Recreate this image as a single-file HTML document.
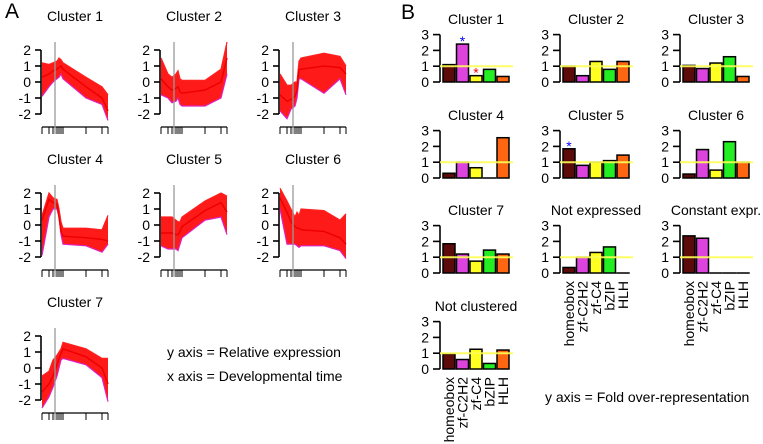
<!DOCTYPE html>
<html><head><meta charset="utf-8"><style>
html,body{margin:0;padding:0;background:#fff}
svg{display:block;font-family:"Liberation Sans",Arial,sans-serif}
</style></head><body>
<svg id="fig" width="763" height="444" viewBox="0 0 763 444"></svg>
<script>
// ---------- Panel A data ----------
const timeOffsets = [1,8,12,16,18,20,22,45,61,67];
const clusterNamesA = ["Cluster 1","Cluster 2","Cluster 3","Cluster 4","Cluster 5","Cluster 6","Cluster 7"];
const highA = [
 [1.2,1.1,1.2,1.3,1.5,1.4,1.2,0.3,-0.3,-0.8],
 [1.5,0.5,0.3,0.5,0.7,0.2,0.1,0.1,0.8,2.5],
 [0.5,-0.2,-0.2,0,0,1.3,1.5,1.8,1.6,1.0],
 [0.6,2.0,1.7,1.6,1.0,0.2,-0.2,-0.2,-0.3,0.6],
 [0.5,0.5,0.5,0.3,0.2,0.2,0.5,1.5,2.0,1.8],
 [2.3,1.5,1.0,0.5,0.8,0.6,1.0,0.9,0.3,0.7],
 [-0.5,-0.2,0.5,0.8,1.0,1.2,1.6,1.2,0.6,0.6]
];
const lowA = [
 [-0.9,-0.3,0.0,0.2,0.3,0.5,0.2,-1.0,-1.4,-2.4],
 [-0.8,-1.0,-1.3,-1.2,-1.0,-1.4,-1.5,-1.5,-1.0,0.5],
 [-1.8,-2.3,-1.7,-1.5,-1.0,0.2,0.2,-0.7,0.2,-0.8],
 [-1.9,0.5,1.0,1.0,0.5,-0.6,-1.2,-1.3,-1.7,-1.2],
 [-1.3,-1.5,-1.5,-1.5,-1.6,-1.2,-0.8,0.3,0.5,-0.6],
 [1.0,-1.2,-1.2,-1.2,-1.3,-1.4,-1.3,-1.3,-1.6,-2.1],
 [-2.5,-1.8,-1.2,-0.5,0,0.5,0.6,0.2,-0.6,-2.1]
];
const meanA = [
 [0.3,0.5,0.7,0.8,0.9,1.0,0.8,-0.3,-1.0,-1.8],
 [0.2,-0.3,-0.5,-0.4,-0.3,-0.6,-0.7,-0.5,0.0,1.5],
 [-0.8,-1.2,-1.1,-0.9,-0.5,0.8,0.8,1.0,0.9,0.5],
 [0.3,1.6,1.4,1.3,0.5,-0.4,-0.7,-0.8,-0.9,-1.0],
 [-0.5,-0.5,-0.5,-0.6,-0.6,-0.4,-0.1,0.9,1.4,0.8],
 [1.7,0.8,0.2,-0.1,-0.2,-0.2,-0.3,-0.4,-0.8,-1.2],
 [-1.5,-1.0,-0.5,0.2,0.6,0.9,1.2,0.7,0.0,-1.0]
];
const yTicksA = [-2,-1,0,1,2];
// ---------- Panel B data ----------
const familyNames = ["homeobox","zf-C2H2","zf-C4","bZIP","HLH"];
const familyColors = ["#5c0a0a","#dd44dd","#ffff22","#22ee22","#ff6611"];
const clusterNamesB = ["Cluster 1","Cluster 2","Cluster 3","Cluster 4","Cluster 5","Cluster 6","Cluster 7","Not expressed","Constant expr.","Not clustered"];
const foldB = [
 [1.1,2.4,0.4,0.8,0.35],
 [1.0,0.4,1.3,0.8,1.3],
 [1.05,0.85,1.2,1.6,0.35],
 [0.3,1.0,0.65,0,2.55],
 [1.85,0.8,1.0,1.1,1.45],
 [0.25,1.8,0.5,2.3,1.0],
 [1.85,1.2,0.75,1.45,1.2],
 [0.35,1.0,1.3,1.65,0],
 [2.35,2.2,0,0,0],
 [0.95,0.6,1.25,0.35,1.2]
];
const starsB = [[[1,"blue"],[2,"red"]],[],[],[],[[0,"blue"]],[],[],[],[],[]];
const yTicksB = [0,1,2,3];

const NS="http://www.w3.org/2000/svg";
const svg=document.getElementById('fig');
function mk(tag,attrs,parent){const e=document.createElementNS(NS,tag);for(const k in attrs)e.setAttribute(k,attrs[k]);(parent||svg).appendChild(e);return e;}
function txt(x,y,s,size,anchor,parent){const t=mk('text',{x:x,y:y,'font-size':size,'text-anchor':anchor||'start',fill:'#000'},parent);t.textContent=s;return t;}

const la=txt(5,18,"A",21);


const lb=txt(401,19,"B",21);



// Panel A
const colXA=[41,160,279], rowYA=[50,193,336], unitA=16;
clusterNamesA.forEach((name,i)=>{
  const ax=colXA[i%3], top=rowYA[Math.floor(i/3)];
  const g=mk('g',{});
  
  
  const zeroY=top+2*unitA;
  const X=t=>ax+t, Y=v=>zeroY-v*unitA;
  txt(ax+34,top-29,name,14,'middle',g);
  mk('line',{x1:ax,y1:Y(2),x2:ax,y2:Y(-2),stroke:'#000','stroke-width':1.6},g);
  yTicksA.forEach(v=>{
    mk('line',{x1:ax-6,y1:Y(v),x2:ax,y2:Y(v),stroke:'#000','stroke-width':1.6},g);
    txt(ax-10,Y(v)+5,String(v),14,'end',g);
  });
  const bx=top+77;
  mk('line',{x1:X(timeOffsets[0]),y1:bx,x2:X(timeOffsets[timeOffsets.length-1]),y2:bx,stroke:'#000','stroke-width':1.3},g);
  timeOffsets.forEach(t=>mk('line',{x1:X(t),y1:bx,x2:X(t),y2:bx+7,stroke:'#000','stroke-width':1},g));
  const hi=highA[i], lo=lowA[i], mn=meanA[i];
  let pts=timeOffsets.map((t,k)=>X(t)+','+Y(hi[k]));
  pts=pts.concat(timeOffsets.map((t,k)=>X(t)+','+Y(lo[k])).reverse());
  const band=mk('polygon',{points:pts.join(' '),fill:'#ff1a1a',stroke:'none'},g);
  
  
  [hi,lo].forEach((arr,j)=>{
    const l=mk('polyline',{points:timeOffsets.map((t,k)=>X(t)+','+Y(arr[k])).join(' '),fill:'none',stroke:j?'#e020c0':'#ff2020','stroke-width':1.2},g);
    
    
  });
  const m=mk('polyline',{points:timeOffsets.map((t,k)=>X(t)+','+Y(mn[k])).join(' '),fill:'none',stroke:'#ee0000','stroke-width':1.5},g);
  
  
  mk('line',{x1:X(14),y1:top-8,x2:X(14),y2:bx+7,stroke:'#999','stroke-width':1.3},g);
});
const n1=txt(167,357,"y axis = Relative expression",14);


const n2=txt(167,381,"x axis = Developmental time",14);



// Panel B
const colXB=[440,560,680], rowZeroB=[82,178,273,369], unitB=15.8;
const barW=12, barStep=13.5;
clusterNamesB.forEach((name,i)=>{
  const ax=colXB[i%3], z=rowZeroB[Math.floor(i/3)];
  const g=mk('g',{});
  
  
  const Y=v=>z-v*unitB;
  txt(ax+36,z-58,name,14,'middle',g);
  mk('line',{x1:ax,y1:Y(0),x2:ax,y2:Y(3),stroke:'#000','stroke-width':1.6},g);
  yTicksB.forEach(v=>{
    mk('line',{x1:ax-7,y1:Y(v),x2:ax,y2:Y(v),stroke:'#000','stroke-width':1.6},g);
    txt(ax-11,Y(v)+5,String(v),14,'end',g);
  });
  foldB[i].forEach((v,k)=>{
    const x=ax+3+k*barStep;
    const r=mk('rect',{x:x,y:Y(v),width:barW,height:Math.max(v*unitB,0.01),fill:familyColors[k],stroke:'#000','stroke-width':1.5},g);
    
    
  });
  const yl=mk('line',{x1:ax,y1:Y(1),x2:ax+73,y2:Y(1),stroke:'#ffff55','stroke-width':2,opacity:0.9},g);
  
  
  starsB[i].forEach(s=>{
    const k=s[0];
    const st=txt(ax+3+k*barStep+barW/2,Y(foldB[i][k])+2,"*",14,'middle',g);
    st.setAttribute('fill',s[1]);
    
    
  });
  if(i>=7){
    familyNames.forEach((f,k)=>{
      const x=ax+3+k*barStep+barW/2+5;
      const t=txt(x,z+8,f,14,'end',g);
      t.setAttribute('transform','rotate(-90 '+x+' '+(z+8)+')');
      
      
    });
  }
});
const n3=txt(545,402,"y axis = Fold over-representation",14);


</script>
</body></html>
